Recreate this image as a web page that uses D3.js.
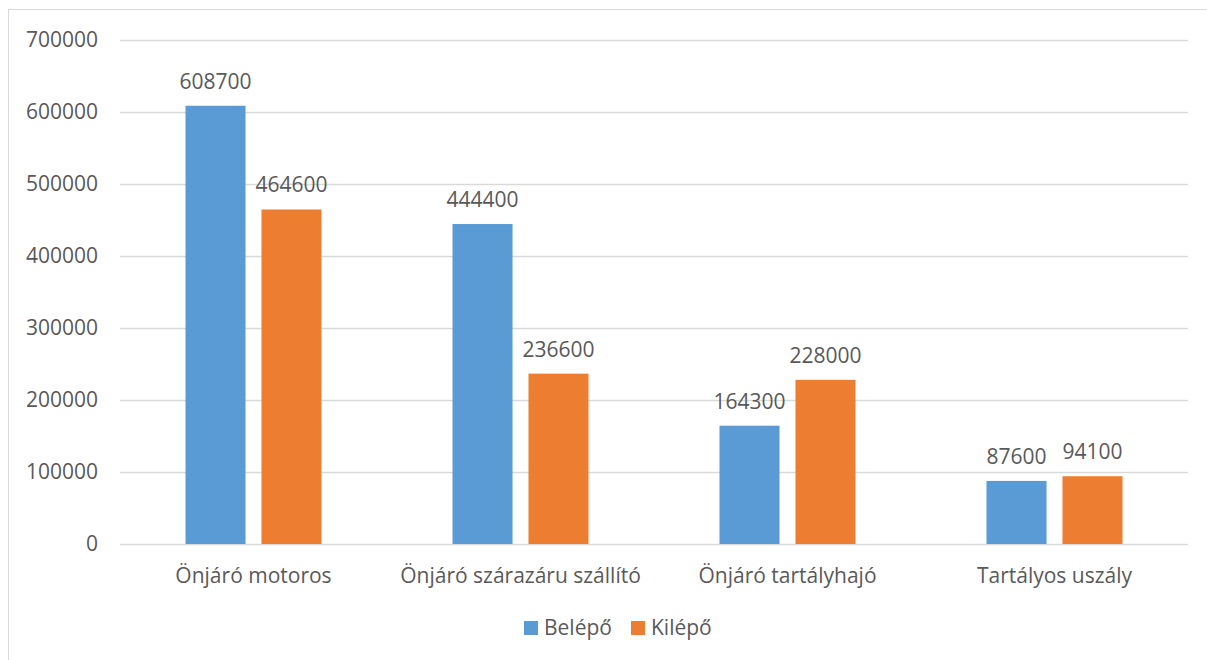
<!DOCTYPE html>
<html>
<head>
<meta charset="utf-8">
<script src="https://cdn.jsdelivr.net/npm/d3@7"></script>
<style>
  body { margin: 0; background: #fff; }
  svg text { font-family: "Open Sans", "Liberation Sans", sans-serif; fill: #595959; }
</style>
</head>
<body>
<div id="chart"></div>
<script>
const categories = ["Önjáró motoros", "Önjáró szárazáru szállító", "Önjáró tartályhajó", "Tartályos uszály"];
const seriesNames = ["Belépő", "Kilépő"];
const belepo = [608700, 444400, 164300, 87600];
const kilepo = [464600, 236600, 228000, 94100];
const yTicks = [0, 100000, 200000, 300000, 400000, 500000, 600000, 700000];
const colors = ["#5B9BD5", "#ED7D31"];

const W = 1207, H = 660;
const plot = { left: 120, right: 1188, top: 40, bottom: 544 };

const svg = d3.select('#chart')
  .append('svg')
  .attr('width', W)
  .attr('height', H);

// keret
svg.append('rect')
  .attr('x', 8.5).attr('y', 9.5)
  .attr('width', W + 10).attr('height', H + 10)
  .attr('fill', 'none')
  .attr('stroke', '#d9d9d9');

const x0 = d3.scaleBand()
  .domain(categories)
  .range([plot.left, plot.right]);

const x1 = d3.scaleBand()
  .domain(seriesNames)
  .range([65.5, 65.5 + 136])
  .paddingInner(0.21);

const y = d3.scaleLinear()
  .domain([0, 700000])
  .range([plot.bottom, plot.top]);

// rácsvonalak
svg.append('g')
  .selectAll('line')
  .data(yTicks)
  .join('line')
  .attr('x1', plot.left).attr('x2', plot.right)
  .attr('y1', d => Math.round(y(d)) + 0.5)
  .attr('y2', d => Math.round(y(d)) + 0.5)
  .attr('stroke', '#d9d9d9')
  .attr('stroke-width', 1.3);

// y tengely feliratai
const yAxis = d3.axisLeft(y).tickValues(yTicks).tickSize(0).tickPadding(0).tickFormat(d3.format('d'));
const yg = svg.append('g')
  .attr('transform', `translate(98,0)`)
  .call(yAxis);
yg.select('.domain').remove();
yg.selectAll('text').attr('font-size', 21).attr('fill', '#595959').attr('font-family', null);

const data = categories.map((c, i) => ({ cat: c, values: [belepo[i], kilepo[i]] }));

const groups = svg.append('g')
  .selectAll('g')
  .data(data)
  .join('g')
  .attr('transform', d => `translate(${x0(d.cat)},0)`);

groups.selectAll('rect')
  .data(d => d.values.map((v, j) => ({ name: seriesNames[j], v, j })))
  .join('rect')
  .attr('x', d => x1(d.name))
  .attr('y', d => y(d.v))
  .attr('width', x1.bandwidth())
  .attr('height', d => y(0) - y(d.v))
  .attr('fill', d => colors[d.j]);

groups.selectAll('text.lbl')
  .data(d => d.values.map((v, j) => ({ name: seriesNames[j], v, j })))
  .join('text')
  .attr('class', 'lbl')
  .attr('x', d => x1(d.name) + x1.bandwidth() / 2)
  .attr('y', d => y(d.v) - 17)
  .attr('text-anchor', 'middle')
  .attr('font-size', 21)
  .text(d => d.v);

// x tengely feliratai
const xAxis = d3.axisBottom(x0).tickSize(0).tickPadding(0);
const xg = svg.append('g')
  .attr('transform', `translate(0,${plot.bottom})`)
  .call(xAxis);
xg.select('.domain').remove();
xg.selectAll('text')
  .attr('font-size', 21)
  .attr('fill', '#595959')
  .attr('font-family', null)
  .attr('dy', null)
  .attr('y', 39);

// jelmagyarázat
const legend = svg.append('g').attr('transform', 'translate(524,621)');
const legendX = [0, 107];
seriesNames.forEach((n, i) => {
  const g = legend.append('g').attr('transform', `translate(${legendX[i]},0)`);
  g.append('rect').attr('width', 14).attr('height', 14).attr('fill', colors[i]);
  g.append('text').attr('x', 20).attr('y', 14).attr('font-size', 21).text(n);
});
</script>
</body>
</html>
